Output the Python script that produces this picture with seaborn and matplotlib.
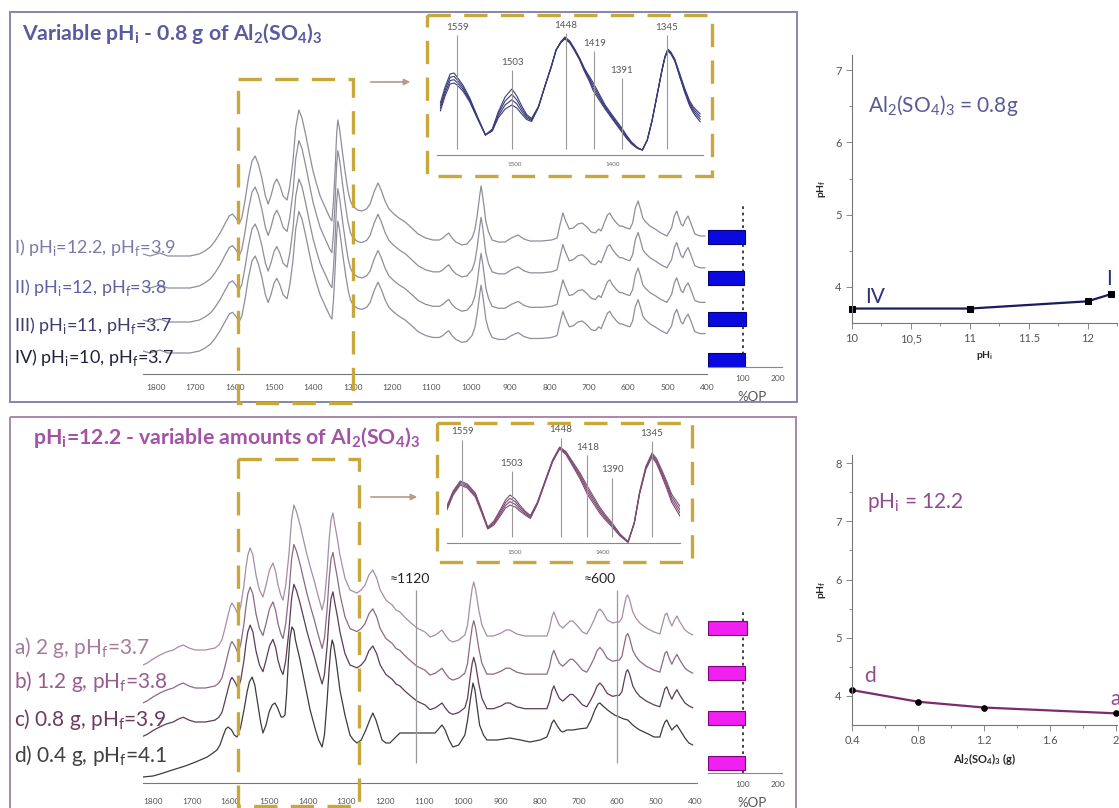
import numpy as np
import pandas as pd
import seaborn as sns
import matplotlib.pyplot as plt
from matplotlib.patches import Rectangle

W, H = 1119, 808

# ------------------------------------------------------------------
# data (intensities are arbitrary units above each
# trace's own baseline, wavenumbers in cm-1)
# ------------------------------------------------------------------
# top block : variable pHi, 0.8 g Al2(SO4)3
top_wn = [1833, 1815, 1790, 1770, 1714, 1690, 1676, 1662, 1650, 1637,
          1625, 1614, 1606, 1597, 1589, 1582, 1574, 1565, 1556, 1548,
          1540, 1531, 1522, 1515, 1508, 1500, 1493, 1485, 1477, 1467,
          1460, 1452, 1445, 1437, 1429, 1419, 1410, 1401, 1392, 1383,
          1374, 1366, 1358, 1353, 1349, 1345, 1341, 1338, 1334, 1329,
          1325, 1318, 1312, 1306, 1300, 1288, 1277, 1265, 1256, 1246,
          1236, 1228, 1218, 1208, 1198, 1183, 1167, 1150, 1134, 1115,
          1096, 1080, 1071, 1063, 1056, 1048, 1038, 1023, 1010, 997,
          990, 984, 977, 974, 970, 966, 962, 955, 946, 930,
          913, 897, 880, 865, 850, 820, 795, 781, 773, 766,
          760, 750, 740, 728, 717, 705, 694, 684, 675, 669,
          660, 653, 647, 640, 630, 622, 616, 605, 596, 589,
          582, 575, 569, 563, 558, 545, 532, 517, 502, 490,
          483, 477, 471, 466, 461, 455, 448, 441, 431, 418,
          405]
top_base = [2, 0, 3, 0, 0, 2, 5, 9, 15, 23,
            32, 40, 42, 38, 32, 38, 55, 78, 95, 100,
            92, 78, 60, 52, 60, 72, 77, 70, 60, 56,
            70, 95, 128, 146, 138, 120, 102, 85, 72, 60,
            52, 45, 38, 35, 55, 85, 122, 136, 128, 112,
            100, 80, 65, 55, 50, 46, 45, 47, 52, 64,
            73, 66, 55, 47, 43, 38, 34, 28, 22, 18,
            16, 16, 18, 21, 23, 18, 14, 11, 12, 18,
            26, 40, 62, 70, 60, 48, 35, 24, 16, 14,
            14, 18, 21, 17, 15, 15, 16, 18, 32, 43,
            36, 27, 28, 32, 33, 29, 24, 23, 27, 25,
            34, 41, 43, 38, 33, 30, 30, 28, 27, 33,
            48, 55, 47, 38, 35, 30, 27, 23, 20, 28,
            40, 45, 38, 32, 30, 36, 40, 33, 22, 20,
            20]
top_labels = [r'I) pH$_\mathregular{i}$=12.2, pH$_\mathregular{f}$=3.9',
              r'II) pH$_\mathregular{i}$=12, pH$_\mathregular{f}$=3.8',
              r'III) pH$_\mathregular{i}$=11, pH$_\mathregular{f}$=3.7',
              r'IV) pH$_\mathregular{i}$=10, pH$_\mathregular{f}$=3.7']
top_offsets = [118, 86, 52, 21]
top_scale = [1.0, 1.01, 0.98, 0.97]
top_op = [105, 104, 108, 105]

# bottom block : pHi = 12.2, variable amount of Al2(SO4)3 (traces a, b, c)
bot_wn = [1826, 1815, 1800, 1782, 1765, 1748, 1735, 1722, 1707, 1691,
          1665, 1640, 1630, 1622, 1614, 1606, 1600, 1596, 1588, 1580,
          1573, 1565, 1560, 1555, 1549, 1542, 1534, 1525, 1516, 1508,
          1499, 1490, 1483, 1477, 1470, 1464, 1457, 1449, 1442, 1436,
          1429, 1420, 1411, 1402, 1393, 1384, 1374, 1363, 1357, 1350,
          1345, 1340, 1335, 1330, 1323, 1317, 1304, 1291, 1273, 1262,
          1252, 1242, 1232, 1222, 1213, 1198, 1182, 1172, 1162, 1150,
          1136, 1118, 1097, 1084, 1070, 1060, 1053, 1045, 1035, 1025,
          1010, 994, 987, 981, 975, 971, 966, 962, 958, 950,
          937, 920, 900, 888, 878, 860, 839, 810, 782, 775,
          769, 764, 758, 750, 741, 730, 722, 715, 705, 690,
          679, 670, 660, 652, 645, 638, 626, 612, 601, 595,
          588, 582, 577, 573, 568, 560, 552, 542, 525, 505,
          490, 483, 477, 472, 466, 459, 452, 446, 438, 425,
          415, 405]
bot_base = [-15, -13, -9, -5, -2, 0, 3, 5, 2, 0,
            0, 2, 5, 10, 22, 35, 44, 47, 42, 35,
            45, 65, 82, 95, 102, 95, 75, 60, 53, 65,
            80, 87, 78, 65, 55, 50, 65, 95, 130, 145,
            138, 125, 110, 95, 82, 70, 55, 40, 50, 80,
            110, 130, 137, 125, 110, 95, 72, 60, 57, 60,
            65, 75, 80, 72, 60, 50, 45, 40, 38, 33,
            28, 22, 18, 13, 15, 18, 20, 15, 10, 8,
            10, 15, 25, 45, 62, 68, 60, 50, 40, 25,
            14, 14, 17, 20, 20, 16, 14, 14, 14, 22,
            33, 38, 32, 25, 22, 26, 29, 29, 25, 18,
            16, 22, 30, 38, 41, 38, 30, 27, 28, 28,
            32, 44, 53, 55, 50, 38, 32, 27, 22, 18,
            16, 26, 35, 37, 30, 24, 30, 34, 28, 20,
            17, 15]
# trace d (0.4 g) has its own shape
bot_d_wn = [1826, 1800, 1782, 1750, 1717, 1690, 1660, 1645, 1635, 1627,
            1618, 1612, 1606, 1597, 1590, 1583, 1574, 1565, 1557, 1551,
            1544, 1537, 1529, 1522, 1516, 1508, 1500, 1492, 1485, 1478,
            1469, 1464, 1459, 1455, 1450, 1446, 1441, 1436, 1432, 1426,
            1420, 1407, 1394, 1380, 1372, 1363, 1357, 1350, 1345, 1341,
            1337, 1333, 1327, 1317, 1304, 1291, 1282, 1273, 1262, 1250,
            1240, 1232, 1224, 1216, 1208, 1198, 1188, 1175, 1162, 1130,
            1097, 1071, 1060, 1053, 1045, 1035, 1025, 1010, 994, 987,
            980, 975, 973, 968, 963, 956, 946, 937, 910, 878,
            850, 826, 800, 782, 775, 769, 764, 755, 746, 741,
            730, 715, 700, 679, 668, 658, 650, 645, 637, 625,
            615, 607, 595, 583, 573, 560, 550, 542, 520, 505,
            490, 483, 477, 472, 466, 459, 452, 446, 438, 425,
            415, 405]
bot_d = [-27, -26, -24, -20, -16, -12, -7, -3, 0, 5,
         15, 21, 23, 20, 15, 13, 22, 40, 58, 68,
         73, 65, 45, 28, 17, 25, 38, 45, 47, 42,
         33, 33, 35, 55, 90, 112, 123, 120, 110, 100,
         90, 65, 40, 20, 10, 3, 15, 50, 80, 100,
         110, 105, 90, 60, 35, 15, 10, 7, 10, 20,
         30, 37, 30, 20, 10, 7, 7, 12, 17, 17,
         17, 17, 22, 25, 20, 10, 3, 5, 15, 30,
         50, 62, 67, 60, 45, 25, 15, 10, 10, 12,
         10, 8, 10, 13, 20, 27, 30, 24, 19, 18,
         20, 20, 21, 22, 30, 40, 46, 47, 44, 40,
         37, 35, 33, 31, 30, 25, 22, 20, 16, 13,
         13, 22, 28, 30, 25, 20, 23, 25, 20, 12,
         7, 5]
bot_labels = [r'a) 2 g, pH$_\mathregular{f}$=3.7',
              r'b) 1.2 g, pH$_\mathregular{f}$=3.8',
              r'c) 0.8 g, pH$_\mathregular{f}$=3.9',
              r'd) 0.4 g, pH$_\mathregular{f}$=4.1']
bot_offsets = [133, 95, 61, 33]
bot_scale = [1.0, 0.99, 0.95]
bot_op = [112, 105, 106, 105]
bot_marks = [1120, 600]

# zoomed insets 1575-1310 cm-1 (base trace + fan-out of the four traces)
tin_wn = [1576, 1571, 1566, 1562, 1559, 1553, 1546, 1538, 1530, 1523,
          1517, 1510, 1503, 1498, 1493, 1488, 1483, 1476, 1469, 1463,
          1458, 1453, 1449, 1444, 1439, 1434, 1429, 1424, 1420, 1414,
          1408, 1400, 1391, 1386, 1381, 1375, 1370, 1365, 1360, 1355,
          1350, 1347, 1344, 1341, 1337, 1332, 1327, 1322, 1318, 1311]
tin_base = [48, 64, 76, 77, 74, 67, 55, 37, 20, 25,
            40, 52, 58, 53, 45, 38, 35, 48, 70, 88,
            105, 113, 117, 113, 105, 96, 85, 76, 68, 58,
            48, 37, 25, 18, 12, 7, 5, 15, 35, 60,
            85, 98, 105, 102, 95, 80, 65, 52, 45, 37]
tin_spread = [8, 9, 10, 10, 8, 6, 4, 2, 0, 2,
              6, 12, 16, 12, 8, 5, 3, 1, 0, 0,
              0, 1, 2, 2, 2, 2, 3, 5, 8, 6,
              4, 4, 4, 3, 2, 1, 0, 0, 0, 0,
              0, 1, 2, 2, 2, 3, 4, 5, 6, 8]
tin_peaks = [1559, 1503, 1448, 1419, 1391, 1345]
tin_peak_h = [128, 93, 130, 112, 85, 128]

bin_wn = [1576, 1569, 1561, 1553, 1544, 1537, 1530, 1523, 1516, 1510,
          1505, 1499, 1494, 1488, 1482, 1474, 1466, 1457, 1449, 1442,
          1435, 1426, 1418, 1411, 1404, 1397, 1390, 1381, 1372, 1365,
          1359, 1352, 1345, 1340, 1334, 1328, 1323, 1313]
bin_base = [35, 50, 60, 57, 48, 32, 15, 20, 30, 39,
            43, 40, 35, 30, 26, 40, 60, 82, 95, 90,
            80, 67, 53, 43, 33, 25, 18, 8, 1, 20,
            50, 75, 88, 82, 70, 57, 45, 31]
bin_spread = [4, 4, 4, 4, 4, 3, 2, 4, 6, 8,
              10, 8, 6, 4, 3, 2, 2, 2, 2, 3,
              4, 6, 8, 7, 6, 5, 4, 2, 1, 1,
              2, 3, 4, 5, 6, 7, 8, 10]
bin_peaks = [1559, 1503, 1448, 1418, 1390, 1345]
bin_peak_h = [111, 80, 113, 96, 73, 110]

# final pH plots
ph_i = [10, 11, 12, 12.2]
ph_f_var_ph = [3.7, 3.7, 3.8, 3.9]
al_amount = [0.4, 0.8, 1.2, 2.0]
ph_f_var_al = [4.1, 3.9, 3.8, 3.7]

# ------------------------------------------------------------------
sns.set_theme(style='white')
plt.rcParams['font.family'] = ['Lato', 'DejaVu Sans']
plt.rcParams['mathtext.fontset'] = 'custom'
plt.rcParams['mathtext.rm'] = 'Lato'
plt.rcParams['mathtext.bf'] = 'Lato:bold'
plt.rcParams['lines.solid_joinstyle'] = 'round'

fig = plt.figure(figsize=(W / 100, H / 100), dpi=100)
fig.patch.set_facecolor('white')


def px_axes(x0, y0, x1, y1):
    ax = fig.add_axes([x0 / W, 1 - y1 / H, (x1 - x0) / W, (y1 - y0) / H])
    ax.set_facecolor('none')
    return ax


def only_bottom(ax, color='#777777'):
    for s in ['left', 'right', 'top']:
        ax.spines[s].set_visible(False)
    ax.spines['bottom'].set_color(color)
    ax.spines['bottom'].set_linewidth(0.8)
    ax.set_yticks([])
    ax.set_xlabel('')
    ax.set_ylabel('')
    ax.grid(False)


def spectra_axes(x0, y0, x1, y1, xlim, ytop, pad):
    ax = px_axes(x0, y0, x1, y1)
    ax.set_xlim(*xlim)
    ax.set_ylim(0, ytop)
    only_bottom(ax)
    ax.set_xticks(range(1800, 399, -100))
    ax.set_xticks(range(1750, 399, -50), minor=True)
    ax.tick_params(axis='x', which='both', direction='inout', colors='#777777',
                   labelcolor='#555555', labelsize=6, width=0.6, length=4, pad=pad)
    ax.tick_params(axis='x', which='minor', length=2.5)
    return ax


def op_axes(x0, y0, x1, y1, values, ylim, color, edge, width):
    ax = px_axes(x0, y0, x1, y1)
    df = pd.DataFrame({'sample': ['1', '2', '3', '4'], 'op': values})
    sns.barplot(data=df, x='op', y='sample', orient='h', color=color, width=width,
                edgecolor=edge, linewidth=0.8, saturation=1, ax=ax)
    ax.set_xlim(0, 211)
    ax.set_ylim(*ylim)
    only_bottom(ax, '#888888')
    ax.axvline(100, color='#333333', lw=1.3, ls=(0, (1.5, 2)), zorder=0)
    ax.set_xticks([100, 200])
    ax.set_xticks([50, 150], minor=True)
    ax.tick_params(axis='x', which='both', direction='inout', colors='#888888',
                   labelcolor='#555555', labelsize=6, width=0.6, length=4, pad=4)
    return ax


def inset_axes(x0, y0, x1, y1, xlim, ytop, wn, base, spread, peaks, peak_h, color):
    ax = px_axes(x0, y0, x1, y1)
    ax.set_xlim(*xlim)
    ax.set_ylim(0, ytop)
    only_bottom(ax, '#888888')
    base = np.array(base, dtype=float)
    spread = np.array(spread, dtype=float)
    for k in [-1, -1 / 3, 1 / 3, 1]:
        sns.lineplot(x=wn, y=base + k * spread / 2, ax=ax, color=color, lw=0.8,
                     sort=False, estimator=None, legend=False)
    ax.vlines(peaks, 6, np.array(peak_h) - 8, color='#999999', lw=0.8)
    for p, h in zip(peaks, peak_h):
        ax.text(p, h, str(p), ha='center', va='center', fontsize=7, color='#555555')
    ax.set_xticks([1500, 1400])
    ax.set_xticks([1550, 1450, 1350], minor=True)
    ax.tick_params(axis='x', which='both', direction='inout', colors='#888888',
                   labelcolor='#666666', labelsize=4.5, width=0.6, length=4, pad=3)
    ax.tick_params(axis='x', which='minor', length=4)
    ax.set_xlabel('')
    return ax


# ---------------- top spectra ----------------
ax_t = spectra_axes(143, 60, 707, 374, (1833, 400), 314, 5)
for off, sc in zip(top_offsets, top_scale):
    sns.lineplot(x=top_wn, y=off + sc * np.array(top_base), ax=ax_t, color='#8e8e9c',
                 lw=0.9, sort=False, estimator=None, legend=False)
op_axes(708, 205, 782, 367, top_op, (3.17, -0.78), '#0a0ae0', '#00007a', 0.34)
inset_axes(437, 15, 703, 155, (1579.4, 1308.2), 140, tin_wn, tin_base, tin_spread,
           tin_peaks, tin_peak_h, '#3c3c7a')

# ---------------- bottom spectra ----------------
ax_b = spectra_axes(143, 460, 697, 783, (1826, 394), 323, 8.5)
bot_colors = ['#a68ea4', '#8c6a84', '#5c3c58']
for off, sc, c in zip(bot_offsets[:3], bot_scale, bot_colors):
    sns.lineplot(x=bot_wn, y=off + sc * np.array(bot_base), ax=ax_b, color=c,
                 lw=0.9, sort=False, estimator=None, legend=False)
sns.lineplot(x=bot_d_wn, y=bot_offsets[3] + np.array(bot_d), ax=ax_b, color='#3c3c3c',
             lw=0.9, sort=False, estimator=None, legend=False)
ax_b.vlines(bot_marks, 20, 193, color='#999999', lw=0.9)
op_axes(708, 612, 782, 773, bot_op, (3.22, -0.36), '#f020f0', '#800080', 0.31)
inset_axes(447, 423, 680, 543, (1575.9, 1313.5), 120, bin_wn, bin_base, bin_spread,
           bin_peaks, bin_peak_h, '#7e4c74')


# ---------------- final pH plots ----------------
def ph_axes(x0, y0, x1, y1):
    ax = px_axes(x0, y0, x1, y1)
    sns.despine(ax=ax)
    for s in ['left', 'bottom']:
        ax.spines[s].set_color('#777777')
        ax.spines[s].set_linewidth(0.8)
    ax.tick_params(which='both', direction='out', colors='#777777', labelcolor='#555555',
                   labelsize=8, width=0.6, left=True, bottom=True)
    ax.tick_params(which='major', length=4)
    ax.tick_params(which='minor', length=2.5)
    ax.grid(False)
    return ax


ax_r1 = ph_axes(852, 55, 1117, 323)
sns.lineplot(x=ph_i, y=ph_f_var_ph, ax=ax_r1, color='#1c1c5c', lw=1.6, marker='s',
             markersize=4, markerfacecolor='black', markeredgecolor='black',
             clip_on=False, estimator=None, legend=False)
ax_r1.set_xlim(10, 12.246)
ax_r1.set_ylim(3.5, 7.21)
ax_r1.set_xticks([10, 10.5, 11, 11.5, 12])
ax_r1.set_xticklabels(['10', '10,5', '11', '11.5', '12'])
ax_r1.set_xticks([10.25, 10.75, 11.25, 11.75, 12.25], minor=True)
ax_r1.set_yticks([4, 5, 6, 7])
ax_r1.set_yticks([4.5, 5.5, 6.5], minor=True)
ax_r1.set_xlabel(r'pH$_\mathregular{i}$', fontsize=7.5, fontweight='bold', labelpad=3)
ax_r1.set_ylabel(r'pH$_\mathregular{f}$', fontsize=7.5, fontweight='bold', labelpad=5)

ax_r2 = ph_axes(852, 455, 1117, 725)
sns.lineplot(x=al_amount, y=ph_f_var_al, ax=ax_r2, color='#7c2c6e', lw=1.6, marker='o',
             markersize=4, markerfacecolor='black', markeredgecolor='black',
             clip_on=False, estimator=None, legend=False)
ax_r2.set_xlim(0.4, 2.006)
ax_r2.set_ylim(3.5, 8.14)
ax_r2.set_xticks([0.4, 0.8, 1.2, 1.6, 2.0])
ax_r2.set_xticklabels(['0.4', '0.8', '1.2', '1.6', '2'])
ax_r2.set_xticks([0.6, 1.0, 1.4, 1.8], minor=True)
ax_r2.set_yticks([4, 5, 6, 7, 8])
ax_r2.set_yticks([4.5, 5.5, 6.5, 7.5], minor=True)
ax_r2.set_xlabel(r'Al$_\mathregular{2}$(SO$_\mathregular{4}$)$_\mathregular{3}$ (g)',
                 fontsize=8, fontweight='bold', labelpad=3)
ax_r2.set_ylabel(r'pH$_\mathregular{f}$', fontsize=7.5, fontweight='bold', labelpad=5)

# ---------------- overlay: frames, titles, zoom boxes, labels ----------------
ov = fig.add_axes([0, 0, 1, 1], zorder=20)
ov.set_xlim(0, W)
ov.set_ylim(H, 0)
ov.axis('off')

ov.add_patch(Rectangle((10, 12), 787, 390, fill=False, ec='#8686ae', lw=1.4))
ov.add_patch(Rectangle((10, 417), 786, 400, fill=False, ec='#a888a8', lw=1.4))

gold = '#c8a83c'
for (x, y, w, h) in [(238, 79, 115, 324), (427, 15, 285, 161),
                     (238, 459, 121, 347), (437, 423, 255, 139)]:
    ov.add_patch(Rectangle((x, y), w, h, fill=False, ec=gold, lw=2.4, ls=(0, (7, 4))))

for y, x1 in [(82, 413), (497, 420)]:
    ov.annotate('', xy=(x1, y), xytext=(368, y),
                arrowprops=dict(arrowstyle='-|>', color='#b89a88', lw=1.2, mutation_scale=9))

ov.text(22, 33, r'Variable pH$_\mathregular{i}$ - 0.8 g of Al$_\mathregular{2}$(SO$_\mathregular{4}$)$_\mathregular{3}$',
        fontsize=15.3, fontweight='bold', color='#5a5aa0', va='center')
ov.text(33, 437, r'pH$_\mathregular{i}$=12.2 - variable amounts of Al$_\mathregular{2}$(SO$_\mathregular{4}$)$_\mathregular{3}$',
        fontsize=15.3, fontweight='bold', color='#a452a4', va='center')

top_label_colors = ['#7a7aaa', '#6060a2', '#3c3c70', '#22223e']
for lab, y, c in zip(top_labels, [248, 287, 325, 357], top_label_colors):
    ov.text(14, y, lab, fontsize=13, color=c, va='center')
bot_label_colors = ['#a67a9c', '#985c8c', '#6c3c60', '#404040']
for lab, y, c in zip(bot_labels, [647, 682, 720, 755], bot_label_colors):
    ov.text(14, y, lab, fontsize=15, color=c, va='center')

ov.text(752, 397, '%OP', fontsize=9.5, color='#555555', ha='center', va='center')
ov.text(752, 803, '%OP', fontsize=9.5, color='#555555', ha='center', va='center')
ov.text(410, 579, '≈1120', fontsize=10, color='#222222', ha='center', va='center')
ov.text(600, 579, '≈600', fontsize=10, color='#222222', ha='center', va='center')

ov.text(868, 105, r'Al$_\mathregular{2}$(SO$_\mathregular{4}$)$_\mathregular{3}$ = 0.8g',
        fontsize=15, color='#5a5a98', va='center')
ov.text(865, 297, 'IV', fontsize=15, color='#30307a', va='center')
ov.text(1106, 279, 'I', fontsize=15, color='#30307a', va='center')
ov.text(867, 502, r'pH$_\mathregular{i}$ = 12.2', fontsize=15, color='#904a90', va='center')
ov.text(864, 676, 'd', fontsize=15, color='#904a90', va='center')
ov.text(1110, 699, 'a', fontsize=15, color='#904a90', va='center')

fig.savefig('out.png', dpi=100)
